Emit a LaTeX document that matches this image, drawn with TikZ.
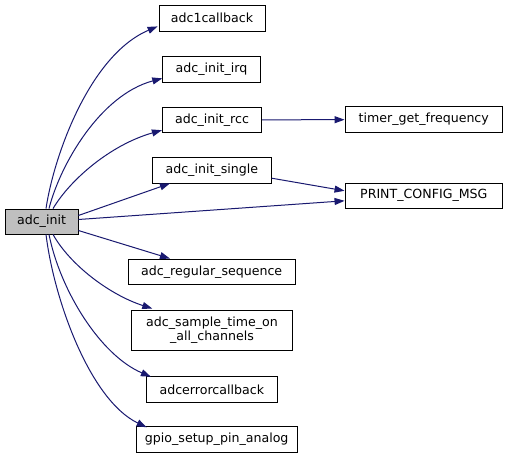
\documentclass[tikz,border=0pt]{standalone}
\usepackage{fontspec}
\setmainfont{DejaVu Sans}
\usetikzlibrary{arrows.meta,calc}
\definecolor{edgeblue}{HTML}{191970}
\begin{document}
\begin{tikzpicture}[x=1bp,y=-1bp,
  fn/.style={draw=black,line width=0.8bp,fill=white,inner sep=0pt,font=\fontsize{12.6bp}{14.5bp}\selectfont,align=center},
  cur/.style={fn,fill=black!25},
  call/.style={draw=edgeblue,line width=1bp,-{Triangle[length=10bp,width=7bp]},fill=none}]
\useasboundingbox[fill=white] (0,0) rectangle (508,459);
\node[cur,minimum width=73bp,minimum height=25bp] (init) at (41.5,221.5) {adc\_init};
\node[fn,minimum width=106bp,minimum height=26bp] (cb) at (212,18) {adc1callback};
\node[fn,minimum width=97.6bp,minimum height=25.3bp] (irq) at (211.5,69.3) {adc\_init\_irq};
\node[fn,minimum width=99.4bp,minimum height=25bp] (rcc) at (212,119.8) {adc\_init\_rcc};
\node[fn,minimum width=119bp,minimum height=25.7bp] (single) at (211.8,170.2) {adc\_init\_single};
\node[fn,minimum width=166.7bp,minimum height=25.7bp] (regseq) at (211.7,271.8) {adc\_regular\_sequence};
\node[fn,minimum width=160.6bp,minimum height=40.7bp] (sample) at (212,330.3) {adc\_sample\_time\_on\\\_all\_channels};
\node[fn,minimum width=131bp,minimum height=25.3bp] (err) at (211.8,389.3) {adcerrorcallback};
\node[fn,minimum width=161.3bp,minimum height=25.6bp] (gpio) at (216.7,439.5) {gpio\_setup\_pin\_analog};
\node[fn,minimum width=157.7bp,minimum height=26bp] (timer) at (423.8,119.7) {timer\_get\_frequency};
\node[fn,minimum width=157.7bp,minimum height=25bp] (print) at (423.8,195.8) {PRINT\_CONFIG\_MSG};

\draw[call] ($(init.north)+(4.5,0)$) .. controls (54,155) and (90,55) .. ($(cb.south west)+(-1,-5)$);
\draw[call] ($(init.north)+(7.5,0)$) .. controls (60,165) and (100,95) .. ($(irq.south west)+(0,-4)$);
\draw[call] ($(init.north)+(11.5,0)$) .. controls (70,180) and (110,145) .. ($(rcc.south west)+(0,-2.5)$);
\draw[call] ($(init.east)+(0,-6)$) -- ($(single.south west)+(18,0)$);
\draw[call] ($(init.east)+(0,-2)$) -- ($(print.west)+(0,5)$);
\draw[call] ($(init.east)+(0,9)$) -- ($(regseq.north west)+(42,0)$);
\draw[call] ($(init.south)+(11.5,0)$) .. controls (70,265) and (110,295) .. ($(sample.north west)+(21,-1)$);
\draw[call] ($(init.south)+(7.5,0)$) .. controls (60,290) and (100,355) .. ($(err.north west)+(5,0.5)$);
\draw[call] ($(init.south)+(4.5,0)$) .. controls (54,300) and (90,400) .. ($(gpio.north west)+(11,1)$);
\draw[call] (rcc.east) -- (timer.west);
\draw[call] ($(single.east)+(0,8)$) -- ($(print.west)+(0,-5)$);
\end{tikzpicture}
\end{document}
